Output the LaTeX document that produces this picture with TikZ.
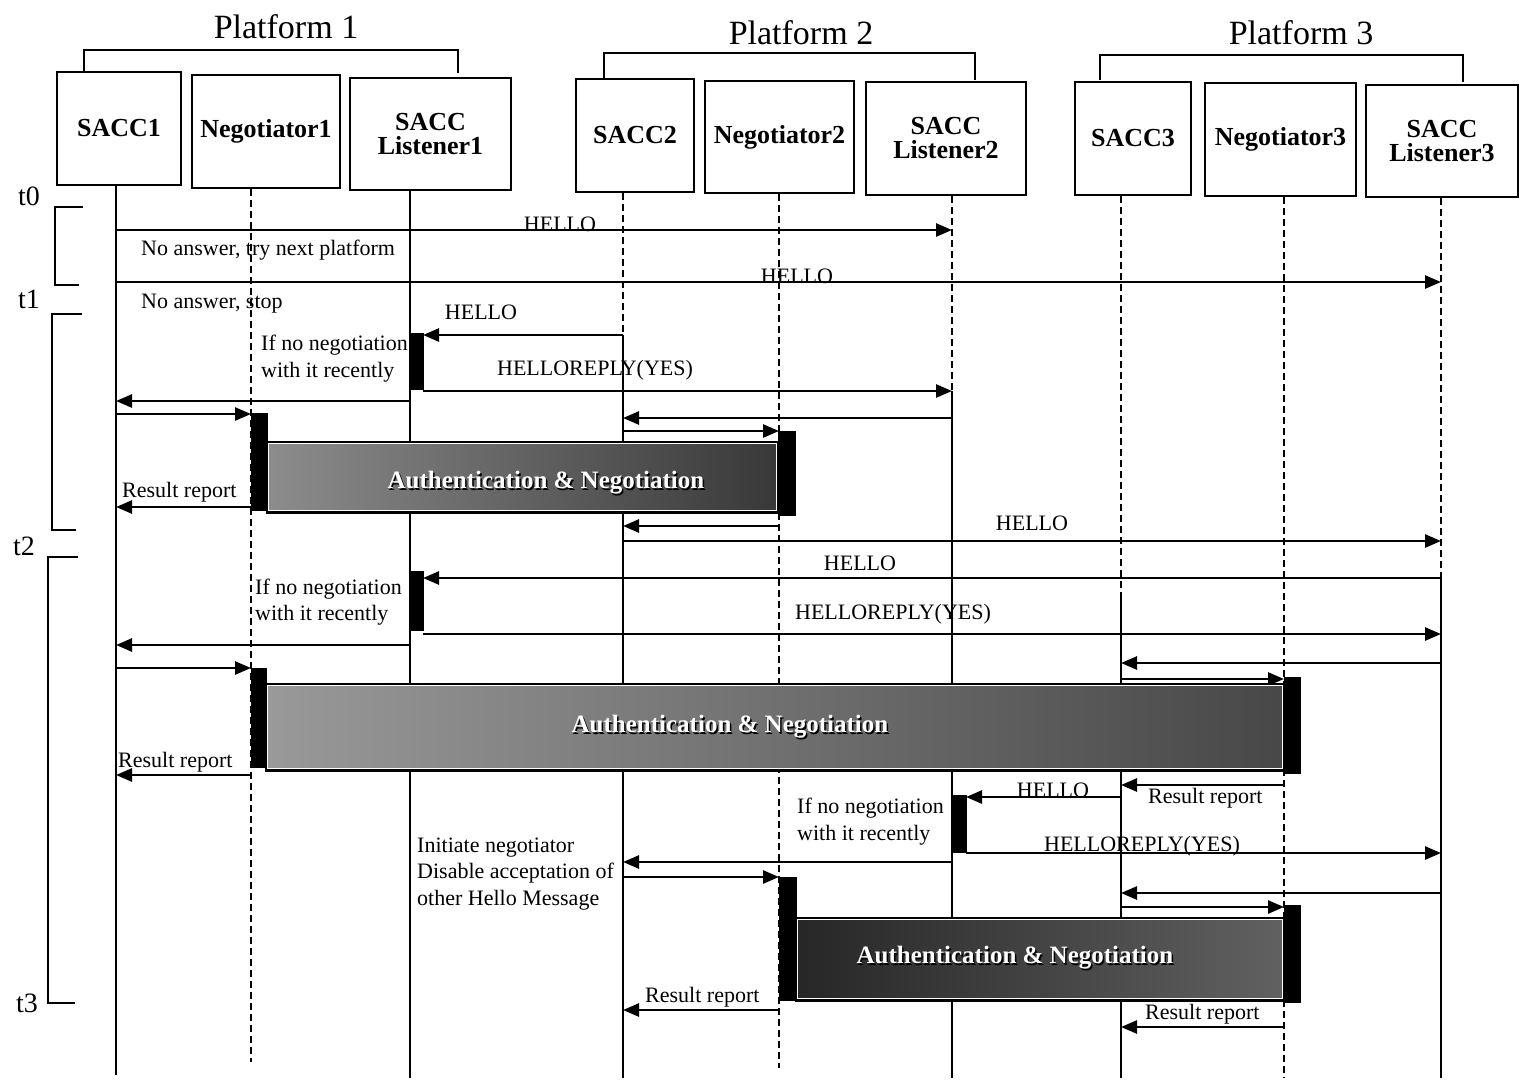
\documentclass[tikz,border=0pt]{standalone}
\usepackage{fontspec}
\setmainfont{Liberation Serif}
\usetikzlibrary{arrows.meta}
\begin{document}
\begin{tikzpicture}[x=1pt,y=-1pt,
  actor/.style={draw,line width=2.4pt,inner sep=1pt,align=center,font=\fontsize{26}{24}\selectfont\bfseries},
  life/.style={line width=2.3pt},
  lifed/.style={line width=2.3pt,dash pattern=on 7pt off 4pt},
  msg/.style={line width=2.6pt,-{Triangle[length=16pt,width=13pt]}},
  lbl/.style={inner sep=0pt,anchor=base,font=\fontsize{22}{24}\selectfont},
  note/.style={inner sep=0pt,anchor=base west,font=\fontsize{22}{24}\selectfont},
  bar/.style={fill=black,draw=black,line width=1pt},
  auth/.style={draw=black,line width=3pt,inner sep=0pt},
  authtext/.style={inner sep=0pt,font=\fontsize{25}{27}\selectfont\bfseries},
  bracket/.style={line width=1.3pt},
  plat/.style={inner sep=0pt,anchor=base,font=\fontsize{34}{36}\selectfont},
  tlabel/.style={inner sep=0pt,anchor=base west,font=\fontsize{28}{30}\selectfont}]
\useasboundingbox (0,0) rectangle (1536,1080);
\fill[white] (0,0) rectangle (1536,1080);

% ---------- platforms ----------
\node[plat] (p1) at (286,38) {Platform 1};
\node[plat] (p2) at (801,44) {Platform 2};
\node[plat] (p3) at (1301,44) {Platform 3};
\draw[bracket] (84,72) |- (458,50) -- (458,73);
\draw[bracket] (604,78) |- (975,53) -- (975,80);
\draw[bracket] (1100,80) |- (1463,55) -- (1463,82);

% ---------- actors ----------
\node[actor,minimum width=124pt,minimum height=113pt] (b1) at (119,128.5) {SACC1};
\node[actor,minimum width=148pt,minimum height=113pt] (b2) at (266,131.5) {Negotiator1};
\node[actor,minimum width=161pt,minimum height=112pt] (b3) at (430.5,134) {SACC\\Listener1};
\node[actor,minimum width=118pt,minimum height=113pt] (b4) at (635,135.5) {SACC2};
\node[actor,minimum width=149pt,minimum height=112pt] (b5) at (779.5,137) {Negotiator2};
\node[actor,minimum width=160pt,minimum height=113pt] (b6) at (946,138.5) {SACC\\Listener2};
\node[actor,minimum width=116pt,minimum height=113pt] (b7) at (1133,138.5) {SACC3};
\node[actor,minimum width=151pt,minimum height=113pt] (b8) at (1280.5,139.5) {Negotiator3};
\node[actor,minimum width=152pt,minimum height=112pt] (b9) at (1442,141) {SACC\\Listener3};

% ---------- time marks ----------
\node[tlabel] (t0) at (18,205) {t0};
\node[tlabel] (t1) at (18,308) {t1};
\node[tlabel] (t2) at (13,555) {t2};
\node[tlabel] (t3) at (16,1012) {t3};
\draw[bracket] (83,207) -| (55,285) -- (79,285);
\draw[bracket] (82,314) -| (52,530) -- (76,530);
\draw[bracket] (78,557) -| (48,1003) -- (75,1003);

% ---------- lifeline columns ----------
\coordinate (S1) at (116,0);
\coordinate (N1) at (251,0);
\coordinate (L1) at (410,0);
\coordinate (S2) at (623,0);
\coordinate (N2) at (779,0);
\coordinate (L2) at (952,0);
\coordinate (S3) at (1121,0);
\coordinate (N3) at (1284,0);
\coordinate (L3) at (1441,0);
\coordinate (L1b) at (423,0);
\coordinate (L2b) at (966,0);

% ---------- lifelines ----------
\draw[life]  (S1 |- b1.south) -- (S1 |- 0,1075);
\draw[lifed] (N1 |- b2.south) -- (N1 |- 0,1062);
\draw[life]  (L1 |- b3.south) -- (L1 |- 0,1078);
\draw[lifed] (S2 |- b4.south) -- (S2 |- 0,335);
\draw[life]  (S2 |- 0,335) -- (S2 |- 0,1078);
\draw[lifed] (N2 |- b5.south) -- (N2 |- 0,1068);
\draw[lifed] (L2 |- b6.south) -- (L2 |- 0,391);
\draw[life]  (L2 |- 0,391) -- (L2 |- 0,1078);
\draw[lifed] (S3 |- b7.south) -- (S3 |- 0,593);
\draw[life]  (S3 |- 0,593) -- (S3 |- 0,1078);
\draw[lifed] (N3 |- b8.south) -- (N3 |- 0,1078);
\draw[lifed] (L3 |- b9.south) -- (L3 |- 0,578);
\draw[life]  (L3 |- 0,578) -- (L3 |- 0,1078);

% ---------- t0 - t1 ----------
\draw[msg] (S1 |- 0,230) -- (L2 |- 0,230);
\node[lbl] (h1) at (560,231) {HELLO};
\node[note] (n1) at (141,255) {No answer, try next platform};
\draw[msg] (S1 |- 0,282) -- (L3 |- 0,282);
\node[lbl] (h2) at (797,283) {HELLO};
\node[note] (n2) at (141,308) {No answer, stop};

% ---------- t1 - t2 ----------
\draw[bar] (L1 |- 0,333) rectangle (L1b |- 0,389);
\draw[msg] (S2 |- 0,335) -- (L1b |- 0,335);
\node[lbl] (h3) at (481,319) {HELLO};
\node[note] (n3) at (261,350) {If no negotiation};
\node[note] (n4) at (261,377) {with it recently};
\draw[msg] (L1b |- 0,391) -- (L2 |- 0,391);
\node[lbl] (h4) at (595,375) {HELLOREPLY(YES)};
\draw[msg] (L1 |- 0,401) -- (S1 |- 0,401);
\draw[msg] (S1 |- 0,414) -- (N1 |- 0,414);
\draw[msg] (L2 |- 0,418) -- (S2 |- 0,418);
\draw[msg] (S2 |- 0,431) -- (N2 |- 0,431);
\node[auth,left color=black!45,middle color=black!80,right color=black!78,
      minimum width=511pt,minimum height=70pt] (a1) at (522.5,477) {};
\draw[white,line width=0.8pt] ([shift={(3pt,-3pt)}]a1.north west) rectangle ([shift={(-3pt,3pt)}]a1.south east);
\node[authtext,text=black] (a1s) at (547.5,484.5) {Authentication \& Negotiation};
\node[authtext,text=white] (a1t) at (546,483) {Authentication \& Negotiation};
\draw[bar] (N1 |- 0,413) rectangle (267,510);
\draw[bar] (778,431) rectangle (795,515);
\draw[msg] (N1 |- 0,507) -- (S1 |- 0,507);
\node[note] (n5) at (122,497) {Result report};
\draw[msg] (N2 |- 0,526) -- (S2 |- 0,526);

% ---------- t2 - t3 ----------
\draw[msg] (S2 |- 0,541) -- (L3 |- 0,541);
\node[lbl] (h5) at (1032,530) {HELLO};
\draw[bar] (L1 |- 0,571) rectangle (L1b |- 0,630);
\draw[msg] (L3 |- 0,578) -- (L1b |- 0,578);
\node[lbl] (h6) at (860,570) {HELLO};
\node[note] (n6) at (255,594) {If no negotiation};
\node[note] (n7) at (255,620) {with it recently};
\draw[msg] (L1b |- 0,634) -- (L3 |- 0,634);
\node[lbl] (h7) at (893,619) {HELLOREPLY(YES)};
\draw[msg] (L1 |- 0,645) -- (S1 |- 0,645);
\draw[msg] (L3 |- 0,663) -- (S3 |- 0,663);
\draw[msg] (S1 |- 0,668) -- (N1 |- 0,668);
\draw[msg] (S3 |- 0,679) -- (N3 |- 0,679);
\node[auth,left color=black!40,middle color=black!88,right color=black!72,
      minimum width=1018pt,minimum height=86pt] (a2) at (775,727) {};
\draw[white,line width=0.8pt] ([shift={(3pt,-3pt)}]a2.north west) rectangle ([shift={(-3pt,3pt)}]a2.south east);
\node[authtext,text=black] (a2s) at (731.5,728.5) {Authentication \& Negotiation};
\node[authtext,text=white] (a2t) at (730,727) {Authentication \& Negotiation};
\draw[bar] (N1 |- 0,668) rectangle (266,767);
\draw[bar] (N3 |- 0,677) rectangle (1300,773);
\draw[msg] (N1 |- 0,775) -- (S1 |- 0,775);
\node[note] (n8) at (118,767) {Result report};
\draw[msg] (N3 |- 0,785) -- (S3 |- 0,785);
\node[note] (n9) at (1148,803) {Result report};

\draw[bar] (L2 |- 0,795) rectangle (L2b |- 0,852);
\draw[msg] (S3 |- 0,797) -- (L2b |- 0,797);
\node[lbl] (h8) at (1053,797) {HELLO};
\node[note] (n10) at (797,813) {If no negotiation};
\node[note] (n11) at (797,840) {with it recently};
\draw[msg] (L2b |- 0,853) -- (L3 |- 0,853);
\node[lbl] (h9) at (1142,851) {HELLOREPLY(YES)};
\draw[msg] (L2 |- 0,862) -- (S2 |- 0,862);
\node[note] (n12) at (417,852) {Initiate negotiator};
\node[note] (n13) at (417,878) {Disable acceptation of};
\node[note] (n14) at (417,905) {other Hello Message};
\draw[msg] (S2 |- 0,877) -- (N2 |- 0,877);
\draw[msg] (L3 |- 0,893) -- (S3 |- 0,893);
\draw[msg] (S3 |- 0,907) -- (N3 |- 0,907);
\node[auth,left color=black!85,middle color=black!80,right color=black!62,
      minimum width=488pt,minimum height=82pt] (a3) at (1040,959) {};
\draw[white,line width=0.8pt] ([shift={(3pt,-3pt)}]a3.north west) rectangle ([shift={(-3pt,3pt)}]a3.south east);
\node[authtext,text=black] (a3s) at (1016.5,959.5) {Authentication \& Negotiation};
\node[authtext,text=white] (a3t) at (1015,958) {Authentication \& Negotiation};
\draw[bar] (N2 |- 0,877) rectangle (796,1000);
\draw[bar] (N3 |- 0,905) rectangle (1300,1002);
\draw[msg] (N2 |- 0,1010) -- (S2 |- 0,1010);
\node[note] (n15) at (645,1002) {Result report};
\draw[msg] (N3 |- 0,1027) -- (S3 |- 0,1027);
\node[note] (n16) at (1145,1019) {Result report};
\end{tikzpicture}
\end{document}
